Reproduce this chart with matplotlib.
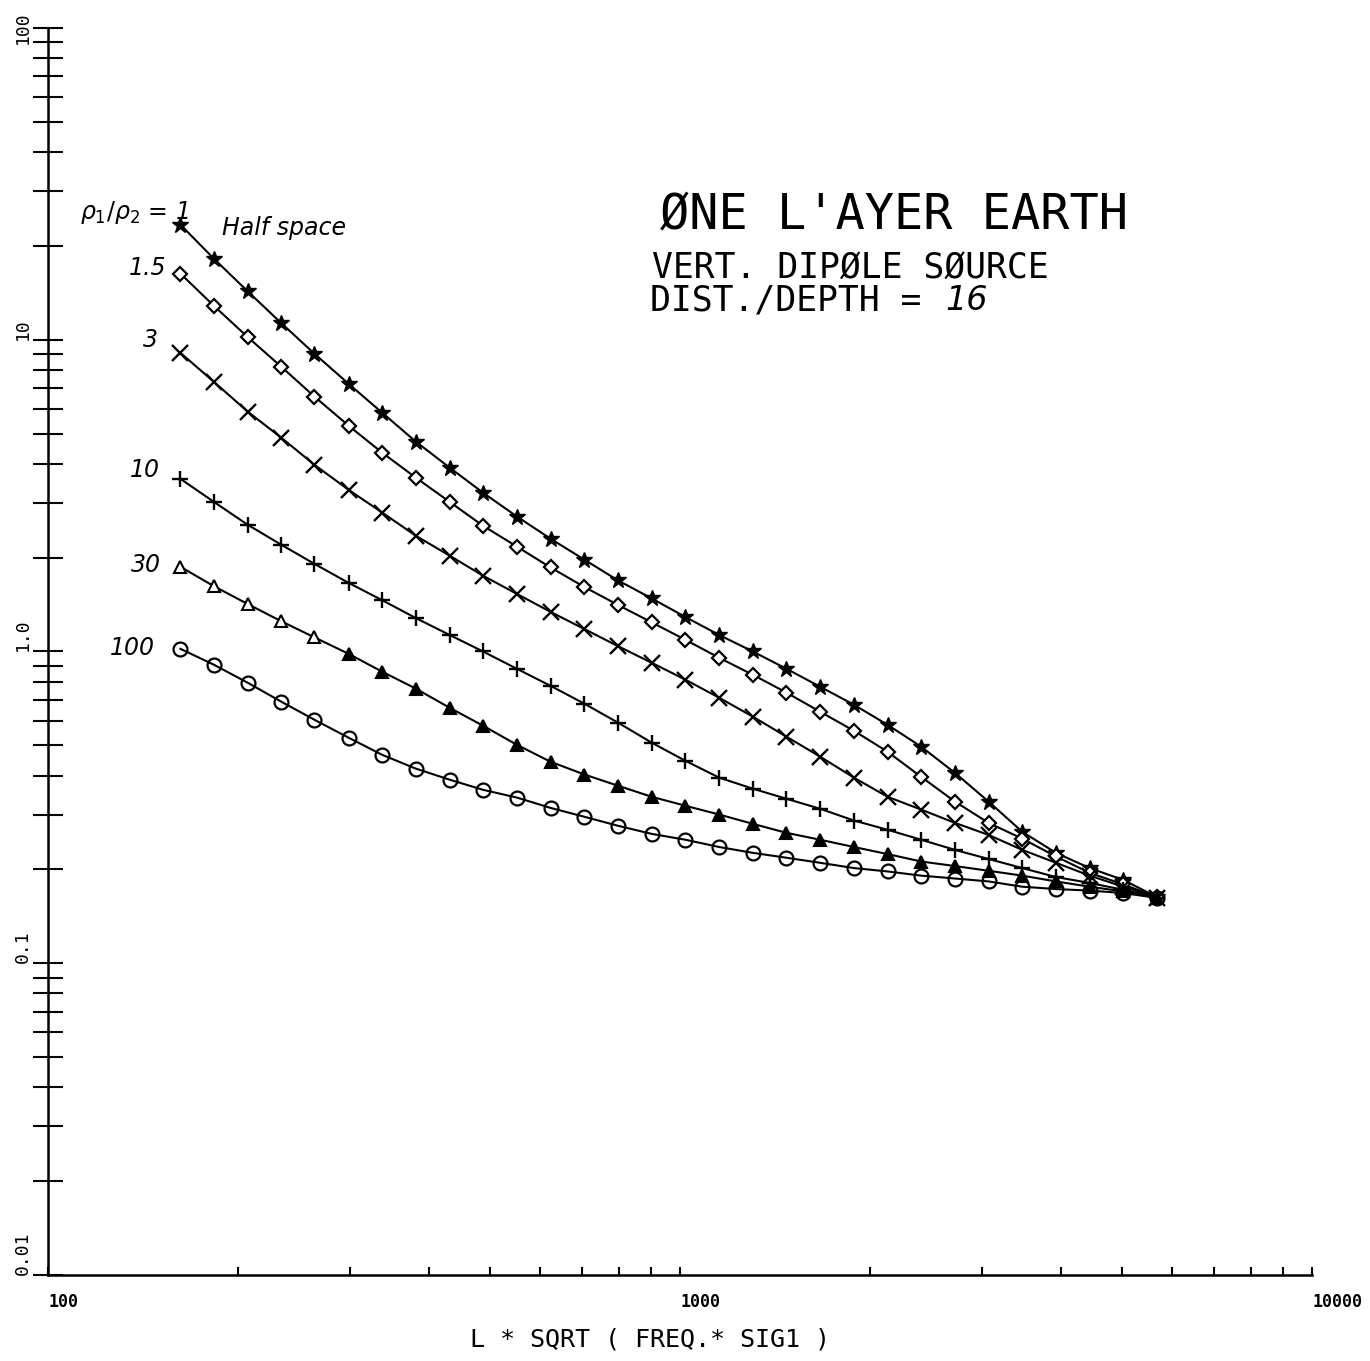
import numpy as np
import matplotlib
matplotlib.use("Agg")
import matplotlib.pyplot as plt
from matplotlib.ticker import LogLocator, NullFormatter

# abscissa: L * sqrt(freq * sig1)
x_vals = [162, 183, 207, 234, 264, 299, 338, 382, 432, 488,
          552, 624, 706, 798, 902, 1020, 1153, 1304, 1474, 1666,
          1884, 2130, 2408, 2723, 3078, 3480, 3935, 4448, 5029, 5686]

# rho1/rho2 = 1 (half space)
y_half = [23.4, 18.2, 14.3, 11.3, 9.02, 7.22, 5.83, 4.71, 3.89, 3.23,
          2.71, 2.30, 1.97, 1.69, 1.48, 1.29, 1.13, 1.00, 0.880, 0.771,
          0.675, 0.582, 0.495, 0.408, 0.330, 0.264, 0.226, 0.202, 0.185, 0.163]
# rho1/rho2 = 1.5
y_1p5 = [16.3, 12.85, 10.2, 8.19, 6.57, 5.30, 4.34, 3.61, 3.02, 2.53,
         2.17, 1.86, 1.61, 1.41, 1.24, 1.09, 0.955, 0.842, 0.738, 0.641,
         0.557, 0.477, 0.396, 0.330, 0.282, 0.251, 0.220, 0.195, 0.179, 0.163]
# rho1/rho2 = 3
y_3 = [9.08, 7.33, 5.88, 4.85, 3.97, 3.30, 2.79, 2.35, 2.03, 1.75,
       1.53, 1.34, 1.18, 1.04, 0.920, 0.812, 0.711, 0.618, 0.533, 0.460,
       0.394, 0.342, 0.311, 0.282, 0.258, 0.231, 0.210, 0.191, 0.176, 0.162]
# rho1/rho2 = 10
y_10 = [3.58, 3.02, 2.55, 2.20, 1.91, 1.66, 1.46, 1.28, 1.13, 1.00,
        0.880, 0.776, 0.680, 0.591, 0.510, 0.446, 0.394, 0.363, 0.337, 0.313,
        0.287, 0.268, 0.249, 0.231, 0.216, 0.202, 0.189, 0.181, 0.172, 0.162]
# rho1/rho2 = 30
y_30 = [1.87, 1.62, 1.42, 1.25, 1.11, 0.983, 0.861, 0.760, 0.660, 0.578,
        0.502, 0.443, 0.403, 0.371, 0.342, 0.320, 0.300, 0.280, 0.262, 0.249,
        0.236, 0.224, 0.212, 0.205, 0.198, 0.191, 0.183, 0.176, 0.170, 0.162]
# rho1/rho2 = 100
y_100 = [1.02, 0.907, 0.794, 0.690, 0.604, 0.529, 0.466, 0.421, 0.388, 0.360,
         0.340, 0.315, 0.295, 0.276, 0.260, 0.249, 0.236, 0.226, 0.218, 0.210,
         0.202, 0.197, 0.191, 0.187, 0.183, 0.176, 0.173, 0.171, 0.168, 0.162]

y_ticks = [0.01, 0.1, 1.0, 10, 100]
y_ticklabels = ["0.01", "0.1", "1.0", "10", "100"]
x_ticks = [100, 1000, 10000]
x_ticklabels = ["100", "1000", "10000"]

W, H = 1370, 1361
fig = plt.figure(figsize=(W / 100, H / 100), dpi=100)
ax = fig.add_axes([48 / W, 86 / H, 1264 / W, 1247 / H])

lw = 1.5
ax.plot(x_vals, y_half, color="k", lw=lw, marker="*", ms=12, mfc="k", mec="k")
ax.plot(x_vals, y_1p5, color="k", lw=lw, marker="D", ms=7, mfc="white", mec="k", mew=1.6)
ax.plot(x_vals, y_3, color="k", lw=lw, marker="x", ms=11, mec="k", mew=1.7)
ax.plot(x_vals, y_10, color="k", lw=lw, marker="+", ms=11, mec="k", mew=1.7)
ax.plot(x_vals, y_30, color="k", lw=lw, marker="^", ms=8, mfc="k", mec="k",
        mew=1.5, markevery=slice(5, None))
ax.plot(x_vals, y_30, color="k", lw=0, marker="^", ms=8, mfc="white", mec="k",
        mew=1.5, markevery=slice(0, 5))
ax.plot(x_vals, y_100, color="k", lw=lw, marker="o", ms=10, mfc="none", mec="k", mew=1.6)

ax.set_xscale("log")
ax.set_yscale("log")
ax.set_xlim(100, 10000)
ax.set_ylim(0.01, 100)

for s in ["top", "right"]:
    ax.spines[s].set_visible(False)
for s in ["left", "bottom"]:
    ax.spines[s].set_linewidth(1.8)

ax.set_yticks(y_ticks, labels=y_ticklabels)
ax.yaxis.set_minor_locator(LogLocator(base=10, subs=np.arange(2, 10)))
ax.yaxis.set_minor_formatter(NullFormatter())
ax.tick_params(axis="y", which="both", direction="inout", length=21, width=1.5, pad=1)
ylabels = ax.get_yticklabels()
for t in ylabels:
    t.set_rotation(90)
    t.set_va("bottom")
    t.set_fontfamily("DejaVu Sans Mono")
    t.set_fontsize(13)
# top label would run off the figure edge, keep it inside
ylabels[-1].set_va("center")

ax.set_xticks(x_ticks, labels=x_ticklabels)
ax.xaxis.set_minor_locator(LogLocator(base=10, subs=np.arange(2, 10)))
ax.xaxis.set_minor_formatter(NullFormatter())
ax.tick_params(axis="x", which="both", direction="in", length=6, width=1.5, pad=13)
for t in ax.get_xticklabels():
    t.set_ha("left")
    t.set_fontfamily("DejaVu Sans Mono")
    t.set_fontweight("bold")
    t.set_fontsize(12)

ax.set_xlabel("L * SQRT ( FREQ.* SIG1 )", fontfamily="DejaVu Sans Mono",
              fontsize=18, va="center")
ax.xaxis.set_label_coords((650 - 48) / 1264, -(1340 - 1275) / 1247)

# handwritten curve labels, placed relative to the first point of each curve
hand = dict(fontstyle="italic", fontsize=17, textcoords="offset pixels", va="center")
ax.annotate("1.5", (x_vals[0], y_1p5[0]), xytext=(-14, 6), ha="right", **hand)
ax.annotate("3", (x_vals[0], y_3[0]), xytext=(-22, 13), ha="right", **hand)
ax.annotate("10", (x_vals[0], y_10[0]), xytext=(-21, 9), ha="right", **hand)
ax.annotate("30", (x_vals[0], y_30[0]), xytext=(-19, 2), ha="right", **hand)
ax.annotate("100", (x_vals[0], y_100[0]), xytext=(-26, 1), ha="right", **hand)
ax.annotate("Half space", (x_vals[0], y_half[0]), xytext=(42, -3), ha="left",
            fontstyle="italic", fontsize=17, textcoords="offset pixels", va="center")
ax.annotate(r"$\rho_1/\rho_2$ = 1", (x_vals[0], y_half[0]), xytext=(-100, 12),
            ha="left", fontstyle="italic", fontsize=17, textcoords="offset pixels",
            va="center")

# title block
fig.text(660 / W, 1 - 215 / H, "ØNE L'AYER EARTH", fontfamily="DejaVu Sans Mono",
         fontsize=35, ha="left", va="center")
fig.text(652 / W, 1 - 268 / H, "VERT. DIPØLE SØURCE", fontfamily="DejaVu Sans Mono",
         fontsize=25, ha="left", va="center")
fig.text(650 / W, 1 - 301 / H, "DIST./DEPTH = ", fontfamily="DejaVu Sans Mono",
         fontsize=25, ha="left", va="center")
fig.text(945 / W, 1 - 301 / H, "16", fontstyle="italic", fontsize=24,
         ha="left", va="center")

fig.savefig("out.png", dpi=100, facecolor="white")
